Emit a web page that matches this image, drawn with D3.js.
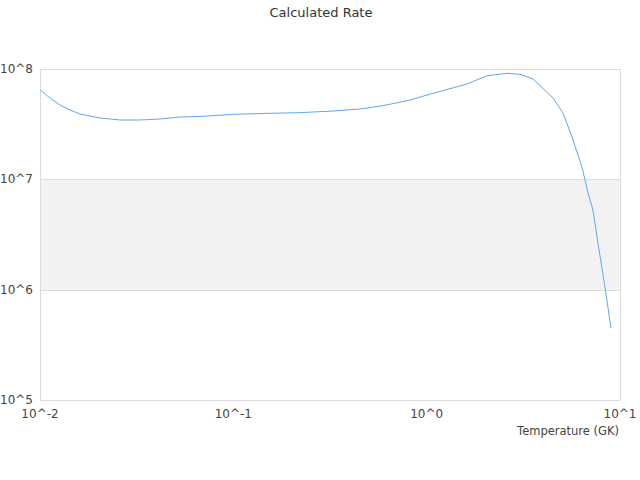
<!DOCTYPE html>
<html>
<head>
<meta charset="utf-8">
<script src="https://cdn.jsdelivr.net/npm/d3@7"></script>
<style>
  body { margin: 0; background: #fff; }
</style>
</head>
<body>
<div id="chart"></div>
<script>
// temperature in GK and the calculated rate
var temps = [0.01, 0.01127, 0.01269, 0.0143, 0.0161, 0.0204, 0.0259, 0.0329, 0.0418, 0.053,
    0.0672, 0.0996, 0.149, 0.221, 0.328, 0.452, 0.594, 0.82, 1.078, 1.617,
    2.051, 2.603, 3.04, 3.548, 4.501, 5.072, 5.647, 6.36, 6.831, 7.25,
    7.69, 8.36, 8.98];
var rates = [6.46e7, 5.46e7, 4.72e7, 4.25e7, 3.91e7, 3.6e7, 3.45e7, 3.45e7, 3.52e7, 3.67e7,
    3.71e7, 3.88e7, 3.96e7, 4.02e7, 4.16e7, 4.34e7, 4.65e7, 5.23e7, 6.02e7, 7.31e7,
    8.69e7, 9.14e7, 8.95e7, 8.11e7, 5.46e7, 3.99e7, 2.42e7, 1.29e7, 7.52e6, 5.27e6,
    2.65e6, 1.06e6, 4.5e5];
var xTicks = [0.01, 0.1, 1, 10];
var xTickLabels = ['10^-2', '10^-1', '10^0', '10^1'];
var yTicks = [1e5, 1e6, 1e7, 1e8];
var yTickLabels = ['10^5', '10^6', '10^7', '10^8'];

var margin = {
    top: 69,
    right: 20,
    bottom: 80,
    left: 40
};
var width = 640, height = 480;
var w = width - margin.left - margin.right,
    h = height - margin.top - margin.bottom;

var svg = d3.select('#chart').append('svg')
    .attr('width', width)
    .attr('height', height)
    .style('font-family', '"DejaVu Sans", sans-serif');

var x = d3.scaleLog().domain([0.01, 10]).range([0, w]);
var y = d3.scaleLog().domain([1e5, 1e8]).range([h, 0]);

svg.append('text')
    .attr('x', width / 2 + 1)
    .attr('y', 17)
    .attr('text-anchor', 'middle')
    .attr('font-size', '13px')
    .attr('fill', '#333')
    .text('Calculated Rate');

var g = svg.append('g')
    .attr('transform', 'translate(' + margin.left + ',' + margin.top + ')');

// shaded band for every other decade
g.append('rect')
    .attr('x', 0)
    .attr('y', y(1e7))
    .attr('width', w)
    .attr('height', y(1e6) - y(1e7))
    .attr('fill', '#f2f2f2');

// horizontal grid lines
g.selectAll('.hgrid')
    .data(yTicks)
    .enter().append('line')
    .attr('class', 'hgrid')
    .attr('x1', 0)
    .attr('x2', w)
    .attr('y1', function(d) { return Math.round(y(d)) + 0.5; })
    .attr('y2', function(d) { return Math.round(y(d)) + 0.5; })
    .attr('stroke', '#dcdcdc');

// left and right frame lines
g.selectAll('.vgrid')
    .data([0.01, 10])
    .enter().append('line')
    .attr('class', 'vgrid')
    .attr('x1', function(d) { return Math.round(x(d)) + 0.5; })
    .attr('x2', function(d) { return Math.round(x(d)) + 0.5; })
    .attr('y1', 0)
    .attr('y2', h)
    .attr('stroke', '#dcdcdc');

var line = d3.line()
    .x(function(d) { return x(d[0]); })
    .y(function(d) { return y(d[1]); });

g.append('path')
    .datum(d3.zip(temps, rates))
    .attr('d', line)
    .attr('fill', 'none')
    .attr('stroke', '#5fa8f2')
    .attr('stroke-width', 1);

// axis labels
g.selectAll('.xlab')
    .data(xTicks)
    .enter().append('text')
    .attr('class', 'xlab')
    .attr('x', function(d) { return x(d); })
    .attr('y', h + 18)
    .attr('text-anchor', 'middle')
    .attr('font-size', '12px')
    .attr('fill', '#444')
    .text(function(d, i) { return xTickLabels[i]; });

g.selectAll('.ylab')
    .data(yTicks)
    .enter().append('text')
    .attr('class', 'ylab')
    .attr('x', -7)
    .attr('y', function(d) { return y(d) + 4; })
    .attr('text-anchor', 'end')
    .attr('font-size', '12px')
    .attr('fill', '#444')
    .text(function(d, i) { return yTickLabels[i]; });

g.append('text')
    .attr('x', w - 1)
    .attr('y', h + 35)
    .attr('text-anchor', 'end')
    .attr('font-size', '11.5px')
    .attr('fill', '#444')
    .text('Temperature (GK)');
</script>
</body>
</html>
